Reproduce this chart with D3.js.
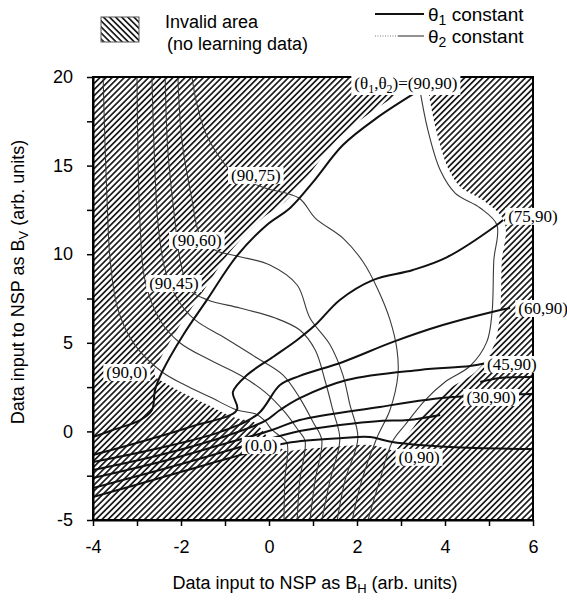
<!DOCTYPE html>
<html>
<head>
<meta charset="utf-8">
<title>NSP learning map</title>
<script src="https://d3js.org/d3.v7.min.js"></script>
<style>
body { margin:0; background:#fff; }
.axis text { font: 18px "Liberation Sans", Arial, sans-serif; fill:#000; }
.axis line { stroke:#000; stroke-width:1.5; }
.axis path { stroke:#000; stroke-width:2; }
.sans { font: 18px "Liberation Sans", Arial, sans-serif; }
.lbl { font: 17px "Liberation Serif", "Times New Roman", serif; }
</style>
</head>
<body>
<svg width="567" height="601"></svg>
<script>
// theta1 constant curves, points as [B_H, B_V]
var theta1_0  = [[-4,-3.70],[-2.48,-2.63],[-0.89,-1.50],[0.41,-0.65],[1.68,-0.37],[2.30,-0.32],[2.80,-0.60],[4.11,-0.88],[6.00,-0.99]];
var theta1_15 = [[-4,-3.19],[-2.48,-2.18],[-0.89,-1.05],[0.25,-0.26],[0.70,0.02],[1.61,0.36],[2.52,0.59],[3.16,0.64],[3.89,0.93]];
var theta1_30 = [[-4,-2.63],[-2.48,-1.73],[-1.11,-0.77],[0.07,0.08],[0.70,0.64],[2.52,1.38],[3.55,1.77],[4.18,1.94],[6.00,2.11]];
var theta1_45 = [[-4,-2.18],[-2.48,-1.33],[-1.11,-0.37],[-0.09,0.59],[0.25,1.21],[0.70,1.88],[1.77,2.90],[3.43,3.47],[4.57,3.69],[4.95,3.86]];
var theta1_45b = [[4.80,2.79],[5.25,3.01],[6.00,3.07]];
var theta1_60 = [[-4,-1.73],[-2.48,-0.94],[-1.11,-0.03],[-0.25,0.98],[0.25,2.62],[0.70,3.13],[1.68,3.92],[2.82,5.05],[3.95,6.00],[5.07,6.74],[5.48,6.96]];
var theta1_75 = [[-4,-1.33],[-2.93,-0.60],[-1.80,0.25],[-0.73,1.21],[-0.82,2.22],[-0.50,3.18],[0.09,4.20],[0.64,5.16],[1.05,6.00],[1.61,7.42],[2.36,8.54],[3.27,9.11],[4.05,9.84],[5.18,11.65],[5.32,11.93]];
var theta1_90 = [[-4,-0.32],[-3.55,0.08],[-2.93,0.64],[-2.66,1.21],[-2.59,2.34],[-2.43,3.35],[-1.95,5.44],[-1.41,7.42],[-0.73,9.90],[-0.05,11.65],[0.48,12.61],[1.00,14.07],[1.68,16.16],[2.45,17.69],[3.43,19.27]];

// theta2 constant curves
var theta2_0  = [[-3.77,20.00],[-3.73,16.44],[-3.68,13.06],[-3.61,9.67],[-3.43,6.85],[-3.05,4.88],[-2.43,3.35],[-1.91,2.62],[-1.34,1.94],[-0.73,1.21],[-0.30,0.98],[-0.09,0.59],[0.07,0.08],[0.25,-0.26],[0.41,-0.65],[0.36,-2.74],[0.34,-5.00]];
var theta2_15 = [[-3.00,20.00],[-2.98,15.88],[-2.93,11.65],[-2.82,8.54],[-2.48,6.29],[-2.02,4.99],[-1.34,4.03],[-0.66,3.18],[-0.09,2.22],[0.36,1.09],[0.66,0.08],[0.82,-0.54],[0.70,-2.74],[0.64,-5.00]];
var theta2_30 = [[-2.66,20.00],[-2.61,15.88],[-2.52,11.65],[-2.36,9.11],[-2.07,7.42],[-1.68,6.29],[-1.00,5.27],[-0.27,4.14],[0.32,3.18],[0.70,1.88],[1.00,0.53],[1.20,-0.49],[1.05,-2.74],[0.93,-5.00]];
var theta2_45 = [[-2.36,20.00],[-2.30,15.88],[-2.14,11.93],[-2.02,9.67],[-1.80,7.98],[-1.39,7.42],[-0.66,6.96],[0.14,6.40],[0.70,5.72],[1.05,4.59],[1.27,2.90],[1.45,1.21],[1.61,-0.43],[1.39,-2.74],[1.20,-5.00]];
var theta2_60 = [[-2.07,20.00],[-1.98,16.44],[-1.75,13.06],[-1.57,11.08],[-1.23,10.24],[-0.73,9.90],[0.02,9.39],[0.64,8.26],[0.93,6.40],[1.39,4.88],[1.68,3.18],[1.84,1.49],[2.02,-0.37],[1.73,-2.74],[1.55,-5.00]];
var theta2_75 = [[-1.75,20.00],[-1.66,18.70],[-1.45,16.90],[-1.16,15.60],[-0.77,14.47],[-0.09,13.74],[0.68,13.17],[1.05,12.04],[1.68,10.91],[2.14,9.56],[2.48,7.98],[2.75,6.29],[2.91,4.59],[2.93,3.18],[2.75,1.21],[2.45,-0.37],[2.11,-2.74],[1.89,-5.00]];
var theta2_90 = [[3.43,19.27],[3.61,17.01],[3.89,14.75],[4.23,13.45],[4.80,12.61],[5.18,11.65],[5.11,9.67],[5.07,6.74],[4.95,5.05],[4.57,3.69],[4.00,2.79],[3.55,1.77],[3.09,0.36],[2.80,-0.60],[2.52,-2.74],[2.25,-5.00]];

var thickCurves = [theta1_0, theta1_15, theta1_30, theta1_45, theta1_45b, theta1_60, theta1_75, theta1_90];
var thinCurves = [theta2_0, theta2_15, theta2_30, theta2_45, theta2_60, theta2_75, theta2_90];

var labelText = ["(90,75)","(90,60)","(90,45)","(90,0)","(0,0)","(0,90)","(30,90)","(45,90)","(60,90)","(75,90)"];
var labelPos  = [[-0.30,14.47],[-1.64,10.80],[-2.16,8.37],[-3.23,3.35],[-0.18,-0.77],[3.41,-1.44],[5.05,1.94],[5.52,3.80],[6.23,6.96],[6.00,12.16]];
var cornerPos = [3.11,19.66];

var xTicks = [-4,-3,-2,-1,0,1,2,3,4,5,6];
var yTicks = [-5,-2.5,0,2.5,5,7.5,10,12.5,15,17.5,20];

var svg = d3.select("svg"),
    margin = {top: 77, left: 93},
    width = 440,
    height = 443;

var x = d3.scaleLinear().domain([-4,6]).range([margin.left, margin.left+width]);
var y = d3.scaleLinear().domain([-5,20]).range([margin.top+height, margin.top]);

var defs = svg.append("defs");
defs.append("clipPath").attr("id","clip").append("rect")
    .attr("x",margin.left).attr("y",margin.top).attr("width",width).attr("height",height);
function hatch(id, angle){
    var p = defs.append("pattern").attr("id",id)
        .attr("patternUnits","userSpaceOnUse")
        .attr("width",4.3).attr("height",10)
        .attr("patternTransform","rotate("+angle+")");
    p.append("rect").attr("width",1.7).attr("height",10).attr("fill","#1c1c1c");
}
hatch("hatch",45);
hatch("hatchL",-45);

var g = svg.append("g").attr("clip-path","url(#clip)");
g.append("rect").attr("x",margin.left).attr("y",margin.top)
    .attr("width",width).attr("height",height).attr("fill","url(#hatch)");

var line = d3.line().x(d=>x(d[0])).y(d=>y(d[1])).curve(d3.curveCatmullRom.alpha(0.5));
var area = d3.line().x(d=>x(d[0])).y(d=>y(d[1])).curve(d3.curveCatmullRomClosed.alpha(0.5));

// valid (learned) region = the part of the grid between theta = 0 and 90
var valid = [].concat(theta2_0.slice(6,15), theta1_0.slice(3,7),
    theta2_90.slice(0,14).reverse(), theta1_90.slice(5).reverse());
g.append("path").datum(valid)
    .attr("d",area)
    .attr("fill","#fff").attr("stroke","#fff")
    .attr("stroke-width",16).attr("stroke-linejoin","round");

g.selectAll(".thin").data(thinCurves).enter().append("path")
    .attr("class","thin")
    .attr("d",line)
    .attr("fill","none").attr("stroke","#3a3a3a").attr("stroke-width",1.1);

g.selectAll(".thick").data(thickCurves).enter().append("path")
    .attr("class","thick")
    .attr("d",line)
    .attr("fill","none").attr("stroke","#111").attr("stroke-width",2);

// axes
svg.append("g").attr("class","axis")
    .attr("transform",`translate(${margin.left},0)`)
    .call(d3.axisLeft(y).tickValues(yTicks).tickSize(6).tickPadding(14).tickSizeOuter(0)
        .tickFormat(d=> d%5===0 ? d : ""));
svg.append("g").attr("class","axis")
    .attr("transform",`translate(0,${margin.top+height})`)
    .call(d3.axisBottom(x).tickValues(xTicks).tickSize(6).tickPadding(14).tickSizeOuter(0)
        .tickFormat(d=> d%2===0 ? d : ""));

svg.append("rect").attr("x",margin.left).attr("y",margin.top)
    .attr("width",width).attr("height",height)
    .attr("fill","none").attr("stroke","#000").attr("stroke-width",2);

// curve end labels with white boxes
function boxed(t, pad){
    var b = t.node().getBBox();
    d3.select(t.node().parentNode).insert("rect", function(){ return t.node(); })
        .attr("x",b.x-pad).attr("y",b.y+1).attr("width",b.width+2*pad).attr("height",b.height-2)
        .attr("fill","#fff");
}
labelText.forEach(function(s,i){
    var lg = svg.append("g");
    var t = lg.append("text").attr("class","lbl")
        .attr("x",x(labelPos[i][0])).attr("y",y(labelPos[i][1]))
        .attr("dy","0.35em").attr("text-anchor","middle").text(s);
    boxed(t,3);
});
var cg = svg.append("g");
var ct = cg.append("text").attr("class","lbl")
    .attr("x",x(cornerPos[0])).attr("y",y(cornerPos[1]))
    .attr("dy","0.35em").attr("text-anchor","middle");
ct.append("tspan").text("(\u03b8");
ct.append("tspan").attr("font-size",12).attr("dy",4).text("1");
ct.append("tspan").attr("dy",-4).text(",\u03b8");
ct.append("tspan").attr("font-size",12).attr("dy",4).text("2");
ct.append("tspan").attr("dy",-4).text(")=(90,90)");
boxed(ct,3);

// axis titles
var xt = svg.append("text").attr("class","sans").attr("x",315).attr("y",589).attr("text-anchor","middle");
xt.append("tspan").text("Data input to NSP as B");
xt.append("tspan").attr("font-size",13).attr("dy",4).text("H");
xt.append("tspan").attr("dy",-4).text(" (arb. units)");

var yt = svg.append("text").attr("class","sans").attr("text-anchor","middle")
    .attr("transform","translate(24,282) rotate(-90)");
yt.append("tspan").text("Data input to NSP as B");
yt.append("tspan").attr("font-size",13).attr("dy",4).text("V");
yt.append("tspan").attr("dy",-4).text(" (arb. units)");

// legend
svg.append("rect").attr("x",101).attr("y",17).attr("width",38).attr("height",25)
    .attr("fill","url(#hatchL)").attr("stroke","#555").attr("stroke-width",1);
svg.append("text").attr("class","sans").attr("x",165).attr("y",28).text("Invalid area");
svg.append("text").attr("class","sans").attr("x",167).attr("y",50).text("(no learning data)");

svg.append("line").attr("x1",375).attr("x2",424).attr("y1",14).attr("y2",14)
    .attr("stroke","#111").attr("stroke-width",2);
svg.append("line").attr("x1",375).attr("x2",398).attr("y1",36).attr("y2",36)
    .attr("stroke","#777").attr("stroke-width",1).attr("stroke-dasharray","1,1.5");
svg.append("line").attr("x1",398).attr("x2",424).attr("y1",36).attr("y2",36)
    .attr("stroke","#3a3a3a").attr("stroke-width",1.1);
var l1 = svg.append("text").attr("class","sans").attr("x",428).attr("y",21).style("font-size","19px");
l1.append("tspan").text("\u03b8");
l1.append("tspan").attr("font-size",14).attr("dy",4).text("1");
l1.append("tspan").attr("dy",-4).text(" constant");
var l2 = svg.append("text").attr("class","sans").attr("x",428).attr("y",43).style("font-size","19px");
l2.append("tspan").text("\u03b8");
l2.append("tspan").attr("font-size",14).attr("dy",4).text("2");
l2.append("tspan").attr("dy",-4).text(" constant");
</script>
</body>
</html>
